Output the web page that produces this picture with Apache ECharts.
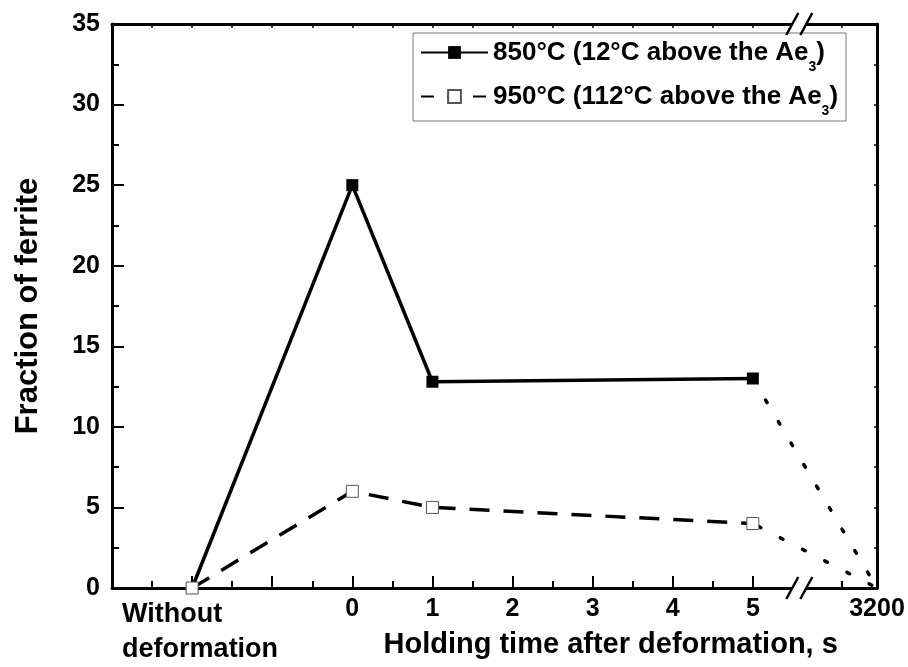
<!DOCTYPE html>
<html>
<head>
<meta charset="utf-8">
<script src="https://cdn.jsdelivr.net/npm/echarts@6/dist/echarts.min.js"></script>
<style>
  html, body { margin: 0; padding: 0; background: #fff; }
  #chart { width: 908px; height: 667px; }
</style>
</head>
<body>
<div id="chart"></div>
<script>
const FONT = "'Liberation Sans', Arial, Helvetica, sans-serif";

// Holding time after deformation (s); null = specimen without deformation
const holdTimes = [null, 0, 1, 5, 3200];
// Fraction of ferrite at each holding time
const ferrite850 = [0, 25, 12.8, 13.0, 0];
const ferrite950 = [0, 6, 5, 4, 0];

const seriesNames = ['850°C (12°C above the Ae₃)', '950°C (112°C above the Ae₃)'];
const undeformedLabel = 'Without\ndeformation';
const timeTicks = [0, 1, 2, 3, 4, 5];
const yMin = 0, yMax = 35, yStep = 5;

// Broken x axis: a slot for the undeformed specimen, a linear 0-5 s stretch,
// then a break and the long holding time at the far end.
const AXIS_START = -3, UNDEFORMED_SLOT = -2, LINEAR_END = 5;
const BREAK_AT = 5.58, POST_BREAK_TICK = 6.11, AXIS_END = 6.55;

function axisPos(t) {
  if (t === null) return UNDEFORMED_SLOT;
  if (t <= LINEAR_END) return t;
  return AXIS_END;
}

// Solid part of each curve (up to 5 s) and dotted continuation to 3200 s
function split(values) {
  const solid = [], dotted = [];
  holdTimes.forEach((t, i) => {
    const p = [axisPos(t), values[i]];
    if (t === null || t <= LINEAR_END) solid.push(p);
    if (t !== null && t >= LINEAR_END) dotted.push(p);
  });
  return { solid, dotted };
}
const s850 = split(ferrite850);
const s950 = split(ferrite950);

const halfSteps = [];
for (let v = AXIS_START + 0.5; v < LINEAR_END + 0.01; v += 0.5) halfSteps.push(v);
const majorTicks = halfSteps.filter(v => Number.isInteger(v));
const minorTicks = halfSteps.filter(v => !Number.isInteger(v)).concat([POST_BREAK_TICK]);
const topTicks = halfSteps.concat([POST_BREAK_TICK]);
const labelValues = [UNDEFORMED_SLOT].concat(timeTicks, [AXIS_END]);

const boldText = { fontFamily: FONT, fontWeight: 'bold', color: '#000' };
const AXIS_LINE = { show: true, onZero: false, lineStyle: { color: '#000', width: 3 } };

const chart = echarts.init(document.getElementById('chart'), null, { renderer: 'canvas' });

const option = {
  backgroundColor: '#fff',
  animation: false,
  grid: { left: 112, right: 31, top: 24, bottom: 79, containLabel: false },
  legend: {
    data: [
      { name: seriesNames[0] },
      { name: seriesNames[1], lineStyle: { type: [13, 13] } }
    ],
    orient: 'vertical',
    left: 420,
    top: 31,
    padding: 0,
    itemGap: 1,
    itemWidth: 67,
    itemHeight: 16,
    selectedMode: false,
    formatter: name => {
      const [base, rest] = name.split('₃');
      return '{n|' + base + '}{s|3}{n|' + rest + '}';
    },
    textStyle: {
      rich: {
        n: Object.assign({ fontSize: 26, lineHeight: 44 }, boldText),
        s: Object.assign({ fontSize: 14, lineHeight: 14, padding: [29, 0, 0, 0] }, boldText)
      }
    }
  },
  xAxis: [
    {
      type: 'value', position: 'bottom', min: AXIS_START, max: AXIS_END,
      axisLine: AXIS_LINE,
      splitLine: { show: false },
      axisTick: { show: true, inside: true, length: 12, lineStyle: { color: '#000', width: 2 }, customValues: majorTicks },
      axisLabel: Object.assign({
        fontSize: 25, margin: 9, customValues: labelValues,
        formatter: v => {
          if (v === UNDEFORMED_SLOT) return '{w|' + undeformedLabel + '}';
          if (v === AXIS_END) return String(holdTimes[holdTimes.length - 1]);
          return String(v);
        },
        rich: {
          w: Object.assign({ fontSize: 27, lineHeight: 35, align: 'left', padding: [0, 0, 0, 16] }, boldText)
        }
      }, boldText)
    },
    {
      type: 'value', position: 'bottom', min: AXIS_START, max: AXIS_END,
      axisLine: { show: false, onZero: false },
      splitLine: { show: false },
      axisTick: { show: true, inside: true, length: 7, lineStyle: { color: '#000', width: 2 }, customValues: minorTicks },
      axisLabel: { show: false }
    },
    {
      type: 'value', position: 'top', min: AXIS_START, max: AXIS_END,
      axisLine: AXIS_LINE,
      splitLine: { show: false },
      axisTick: { show: true, inside: true, length: 4, lineStyle: { color: '#000', width: 1.5 }, customValues: topTicks },
      axisLabel: { show: false }
    }
  ],
  yAxis: [
    {
      type: 'value', position: 'left', min: yMin, max: yMax, interval: yStep,
      name: 'Fraction of ferrite', nameLocation: 'middle', nameGap: 68,
      nameTextStyle: Object.assign({ fontSize: 31 }, boldText),
      axisLine: AXIS_LINE,
      splitLine: { show: false },
      axisTick: { show: true, inside: true, length: 12, lineStyle: { color: '#000', width: 2 } },
      minorTick: { show: true, splitNumber: 2, length: 7, lineStyle: { color: '#000', width: 2 } },
      minorSplitLine: { show: false },
      axisLabel: Object.assign({ fontSize: 25, margin: 12 }, boldText)
    },
    {
      type: 'value', position: 'right', min: yMin, max: yMax, interval: yStep / 2,
      axisLine: AXIS_LINE,
      splitLine: { show: false },
      axisTick: { show: true, inside: true, length: 3, lineStyle: { color: '#000', width: 1.5 } },
      axisLabel: { show: false }
    }
  ],
  series: [
    {
      name: seriesNames[0], type: 'line', data: s850.solid,
      symbol: 'rect', symbolSize: 12,
      lineStyle: { color: '#000', width: 3.5 },
      itemStyle: { color: '#000' },
      z: 3
    },
    {
      name: seriesNames[1], type: 'line', data: s950.solid,
      symbol: 'rect', symbolSize: 12,
      lineStyle: { color: '#000', width: 3.5, type: [20, 14] },
      itemStyle: { color: '#fff', borderColor: '#555', borderWidth: 1 },
      z: 4
    },
    {
      type: 'line', data: s850.dotted, symbol: 'none', silent: true,
      lineStyle: { color: '#000', width: 3.5, type: [3, 22], cap: 'round' },
      z: 2
    },
    {
      type: 'line', data: s950.dotted, symbol: 'none', silent: true,
      lineStyle: { color: '#000', width: 3.5, type: [3, 22], dashOffset: -6, cap: 'round' },
      z: 2
    }
  ]
};
chart.setOption(option);

// Axis break marks, x-axis title and legend frame
const bx = chart.convertToPixel({ xAxisIndex: 0 }, BREAK_AT);
const yBottom = chart.convertToPixel({ yAxisIndex: 0 }, yMin);
const yTop = chart.convertToPixel({ yAxisIndex: 0 }, yMax);
const midX = (chart.convertToPixel({ xAxisIndex: 0 }, 0) + chart.convertToPixel({ xAxisIndex: 0 }, AXIS_END)) / 2;

function breakMark(yc) {
  const off = 7, dx = 6, dy = 11;
  return [
    { type: 'polygon', z: 100,
      shape: { points: [[bx - off - 2, yc + 3], [bx + off - 2, yc + 3], [bx + off + 2, yc - 3], [bx - off + 2, yc - 3]] },
      style: { fill: '#fff' } },
    { type: 'line', z: 101, shape: { x1: bx - off - dx, y1: yc + dy, x2: bx - off + dx, y2: yc - dy },
      style: { stroke: '#000', lineWidth: 2.5 } },
    { type: 'line', z: 101, shape: { x1: bx + off - dx, y1: yc + dy, x2: bx + off + dx, y2: yc - dy },
      style: { stroke: '#000', lineWidth: 2.5 } }
  ];
}

chart.setOption({
  graphic: [
    ...breakMark(yBottom),
    ...breakMark(yTop),
    { type: 'text', z: 100,
      style: Object.assign({ text: 'Holding time after deformation, s', x: midX - 4, y: 645,
        fontSize: 29, align: 'center', verticalAlign: 'middle' }, boldText, { fill: '#000' }) },
    { type: 'rect', z: 50,
      shape: { x: 413, y: 33, width: 433, height: 88 },
      style: { fill: 'none', stroke: '#777', lineWidth: 1 } }
  ]
});
</script>
</body>
</html>
